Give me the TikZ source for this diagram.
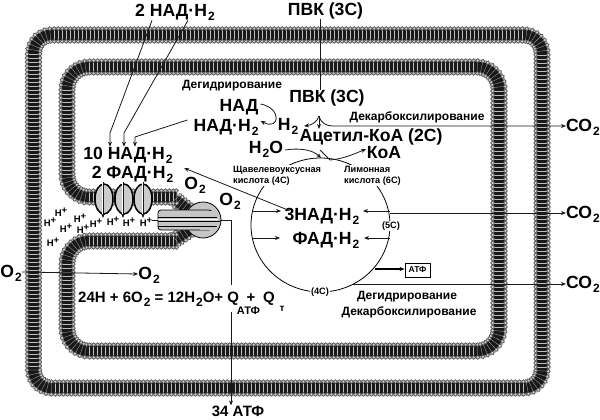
\documentclass[tikz,border=0pt]{standalone}
\usepackage{fontspec}
\setmainfont{Liberation Sans}
\usetikzlibrary{arrows.meta,decorations.markings}
\newcommand{\lowidx}[1]{\kern1pt\raisebox{-4pt}{\fontsize{12}{12}\selectfont #1}}
\tikzset{
	>={Stealth[length=5pt,width=4pt]},
	conn/.style={draw=black!90,line width=0.8pt},
	bigtxt/.style={inner sep=0pt,font=\fontsize{17.6}{19}\selectfont\bfseries},
	eqtxt/.style={inner sep=0pt,font=\fontsize{15}{16}\selectfont\bfseries},
	midtxt/.style={inner sep=0pt,font=\fontsize{12}{13}\selectfont\bfseries},
	smalltxt/.style={inner sep=1pt,fill=white,align=left,font=\fontsize{9.2}{10.8}\selectfont\bfseries},
	hplus/.style={inner sep=0pt,font=\fontsize{9.5}{10}\selectfont\bfseries},
	membrane/.style={
		preaction={draw=gray!60,line width=16pt},
		preaction={draw=black!90,line width=11pt},
		postaction={decorate,decoration={markings,
			mark=between positions 0 and 1 step 4pt with {
				\draw[gray!50,line width=0.25pt] (0,-5) -- (0,5);
				\draw[black!65,line width=0.7pt,fill=gray!35] (0,6.4) circle (1.9pt);
				\draw[black!65,line width=0.7pt,fill=gray!35] (0,-6.4) circle (1.9pt);
			}}}
	},
	lens/.style={draw=black,line width=1.5pt,fill=gray!40}
}
\begin{document}
\begin{tikzpicture}[x=1pt,y=-1pt]
	\useasboundingbox (0,0) rectangle (600,420);
	\fill[white] (0,0) rectangle (600,420);
	% membranes
	\path[membrane,rounded corners=18pt] (33.5,200) -- (33.5,35) -- (542,35) -- (542,388) -- (33.5,388) -- cycle;
	\path[membrane,rounded corners=22pt] (192,228) .. controls (178,239) and (170,241) .. (155,241)
		-- (67,241) -- (67,351) -- (499,351) -- (499,67) -- (67,67) -- (67,197) -- (155,197)
		.. controls (170,197) and (180,203) .. (192,213);
	% respiratory complexes
	\foreach \x in {104,124,143} {
			\draw[lens] (\x,199) ellipse (9pt and 15pt);
		}
	\foreach \x in {103,123,143} {
			\draw[white,line width=2pt] (\x,182) -- (\x,216);
			\draw[->,conn] (\x,182) -- (\x,218);
		}
	% ATP synthase
	\draw[black,line width=0.8pt,fill=gray!45] (203,220) circle (18pt);
	\draw[black,line width=0.8pt,fill=gray!45,rounded corners=3pt] (158,210) rectangle (212,230);
	\fill[gray!45] (200,210.5) rectangle (214,229.5);
	\draw[black,line width=1.4pt] (158,217.5) -- (217,217.5);
	\draw[black,line width=0.8pt] (158,221.5) -- (220,221.5);
	\draw[black,line width=0.8pt] (158,226) -- (217,226);
	\draw[white,line width=0.8pt] (158,219.5) -- (218,219.5);
	% Krebs cycle
	\node[draw=none,inner sep=0pt] (cycle) at (320.5,225) {};
	\draw[black,line width=0.8pt] (cycle) ellipse (69.5pt and 67pt);
	% texts
	\node[bigtxt] (nadtop) at (175,12) {2 НАД·Н\lowidx{2}};
	\node[bigtxt] (pvktop) at (325.5,11) {ПВК (3С)};
	\node[midtxt] (dehyd) at (232,86) {Дегидрирование};
	\node[bigtxt] (pvk) at (327,98) {ПВК (3С)};
	\node[midtxt] (decarb) at (417,117) {Декарбоксилирование};
	\node[bigtxt] (nad) at (239,107) {НАД};
	\node[bigtxt] (nadh) at (226,127) {НАД·Н\lowidx{2}};
	\node[bigtxt] (htwo) at (288,126) {Н\lowidx{2}};
	\node[bigtxt] (acetyl) at (371,137) {Ацетил-КоА (2С)};
	\node[bigtxt] (coa) at (384,153) {КоА};
	\node[bigtxt] (water) at (266,149) {Н\lowidx{2}О};
	\node[bigtxt] (nadten) at (128,155) {10 НАД·Н\lowidx{2}};
	\node[bigtxt] (fadtwo) at (132.5,174) {2 ФАД·Н\lowidx{2}};
	\node[bigtxt] (otwoa) at (195,185) {О\lowidx{2}};
	\node[bigtxt] (otwob) at (230,201) {О\lowidx{2}};
	\node[smalltxt,anchor=north west] (oxal) at (232,165) {Щавелевоуксусная\\кислота (4С)};
	\node[smalltxt,anchor=north west] (citr) at (343,165) {Лимонная\\кислота (6С)};
	\node[smalltxt] (cfive) at (391,226) {(5С)};
	\node[smalltxt] (cfour) at (320,292) {(4С)};
	\node[bigtxt] (nadthree) at (322,216) {3НАД·Н\lowidx{2}};
	\node[bigtxt] (fad) at (326,240) {ФАД·Н\lowidx{2}};
	\node[draw,line width=0.8pt,minimum width=25pt,minimum height=14pt,inner sep=0pt,font=\fontsize{8.5}{9}\selectfont\bfseries] (atpbox) at (417.5,270) {АТФ};
	\node[bigtxt] (cotwoa) at (583,127) {СО\lowidx{2}};
	\node[bigtxt] (cotwob) at (583,214) {СО\lowidx{2}};
	\node[bigtxt] (cotwoc) at (583,284) {СО\lowidx{2}};
	\node[midtxt] (dehydb) at (407,297) {Дегидрирование};
	\node[midtxt] (decarbb) at (409,312) {Декарбоксилирование};
	\node[bigtxt] (oleft) at (11,273) {О\lowidx{2}};
	\node[bigtxt] (oright) at (149,275) {О\lowidx{2}};
	\node[eqtxt,anchor=west] (equat) at (78,299) {24Н + 6О\lowidx{2} = 12Н\lowidx{2}О+ Q};
	\node[inner sep=0pt,font=\fontsize{11}{12}\selectfont\bfseries] (qatp) at (248.5,311) {АТФ};
	\node[eqtxt] (plus) at (251,298) {+};
	\node[eqtxt] (qt) at (269,299) {Q};
	\node[inner sep=0pt,font=\fontsize{10}{11}\selectfont\bfseries] (qtsub) at (282,309) {т};
	\node[eqtxt] (atpend) at (238,411) {34 АТФ};
	% protons
	\foreach \x/\y in {50/222,61/212,66/228,80/218,83/229,96/223,113/221,129/222,146/222,53/242} {
			\node[hplus] at (\x,\y) {Н\raisebox{3pt}{+}};
		}
	% connectors
	\coordinate (kinka) at (110,133);
	\coordinate (kinkb) at (124,133);
	\coordinate (kinkc) at (135,137);
	\draw[->,conn] ([xshift=-23pt]nadtop.south) -- (kinka) -- ([xshift=-18pt]nadten.north);
	\draw[->,conn] ([xshift=13pt]nadtop.south) -- (kinkb) -- ([xshift=-4pt]nadten.north);
	\draw[->,conn] (nadh.west) ++(-6pt,7pt) -- (kinkc) -- ([xshift=7pt]nadten.north);
	\draw[conn] ([xshift=-5.5pt]pvktop.south) -- ([xshift=-7pt]pvk.north);
	\draw[->,conn] (nad.east) ++(2pt,3pt) .. controls (282,108) and (280,131) .. ([xshift=2pt,yshift=6pt]nadh.east);
	\coordinate (brace) at (319,116);
	\draw[->,conn] (brace) .. controls (317,122) and (312,125) .. (304,126);
	\draw[->,conn] (brace) -- (319,129);
	\draw[->,conn] (brace) .. controls (321,123) and (326,126) .. (333,126) -- (cotwoa.west |- 0,126);
	\draw[->,conn] (water.east) ++(2pt,-1pt) .. controls (297,148) and (312,149) .. (321,158);
	\draw[conn] (320,150) -- (330,160);
	\draw[->,conn] (330,160) .. controls (342,159) and (352,155) .. (366,149);
	\draw[->,conn] (nadthree.north west) ++(5pt,-3pt) -- (184,168);
	\draw[->,conn] (252,211) -- (281,211);
	\draw[->,conn] (252,238) -- (280,238);
	\draw[->,conn] (390,211) -- (363,211);
	\draw[->,conn] (390,238) -- (364,238);
	\draw[->,conn] (390,213) -- (cotwob.west |- 0,213);
	\draw[->,conn] (353,284) -- (cotwoc.west);
	\draw[->,black,line width=1.1pt] (375,269) -- (atpbox.west |- 0,269);
	\draw[->,conn] (oleft.east) ++(0pt,1pt) -- (oright.west |- 0,274);
	\draw[conn] (152,220) -- (158,220);
	\draw[conn] (220,220) -- (231,220) -- (231,285);
	\draw[->,conn] (231,312) -- ([xshift=-7pt]atpend.north);
\end{tikzpicture}
\end{document}
